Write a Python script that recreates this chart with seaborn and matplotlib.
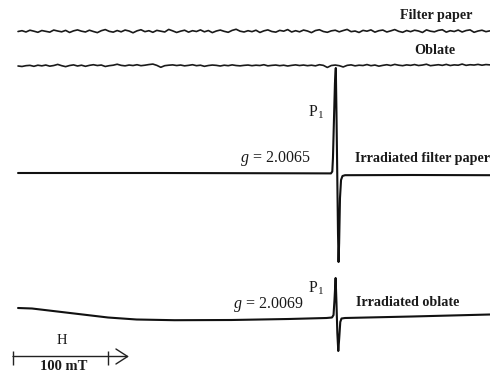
import numpy as np
import pandas as pd
import matplotlib
matplotlib.use("Agg")
import matplotlib.pyplot as plt
import seaborn as sns

sns.set_theme(style="white")
plt.rcParams['font.family'] = ['Liberation Serif', 'DejaVu Serif']
plt.rcParams['mathtext.fontset'] = 'custom'
plt.rcParams['mathtext.rm'] = 'Liberation Serif'
plt.rcParams['mathtext.it'] = 'Liberation Serif:italic'

# ---- data (field in mT, intensity in arbitrary units) ----
noise_field_start, noise_field_end = 5.3, 502.0
filter_paper = [0.0, 0.5, -0.3, 0.8, 0.2, -0.5, 0.6, 0.1, -0.4, 0.9, 0.3, -0.2, 0.7, -0.6, 0.4, 1.0, 0.2, -0.3, 0.8, 0.0,
                -0.7, 0.5, 1.2, 0.1, -0.4, 0.6, -0.2, 0.9, 0.3, -0.8, 0.4, 1.1, -0.1, 0.5, -0.5, 0.7, 0.2, -0.3, 1.3, 0.4,
                -0.6, 0.2, 0.8, -0.4, 0.5, 0.0, 1.0, -0.2, 0.6, -0.7, 0.3, 0.9, 0.1, -0.5, 0.7, 1.4, 0.2, -0.3, 0.5, -0.1,
                0.8, -0.6, 0.4, 1.0, 0.0, -0.4, 0.7, 0.2, 1.2, -0.3, 0.5, -0.2, 0.9, 0.3, -0.7, 0.6, 1.1, 0.0, -0.5, 0.4,
                0.8, -0.2, 0.6, 1.3, -0.1, 0.3, -0.6, 0.7, 0.2, 1.0, -0.4, 0.5, 0.9, -0.3, 0.4, 1.2, 0.1, -0.5, 0.6, -0.1,
                0.8, 0.3, -0.6, 1.0, 0.2, -0.2, 0.7, 1.1, -0.4, 0.5, 0.0, 0.9, -0.3, 0.6, 1.0, -0.5, 0.3, 0.8, -0.1, 0.4]
oblate = [0.0, -0.3, 0.2, 0.4, -0.2, 0.5, 0.1, 0.6, -0.1, 0.3, 1.0, 0.2, -0.4, 0.3, 0.7, 0.0, 0.5, -0.2, 0.4, 0.8,
          0.3, 0.6, -0.3, 0.2, 0.5, 1.1, 0.4, 0.1, 0.6, 0.3, 0.8, 0.2, 0.5, 0.9, 1.2, 0.4, -0.8, 0.2, 0.5, 0.7,
          0.3, 0.6, 0.1, 0.4, 0.8, 0.2, 0.5, -0.2, 0.3, 0.6, 0.4, 0.0, 0.5, 0.2, 0.7, 0.3, 0.1, 0.4, 0.6, 0.2,
          0.5, 0.3, 0.8, 0.1, 0.4, 0.6, 0.2, 0.5, 0.0, 0.4, 0.7, 0.3, 0.6, 0.2, 0.5, 0.1, 0.8, 0.4, -0.9, 0.3,
          0.6, 0.2, -0.6, 0.4, 0.7, 0.1, 0.5, 0.3, 0.9, 0.2, 0.6, -0.1, 0.4, 0.8, 0.3, 1.0, 0.5, 0.2, 0.7, 0.4,
          0.9, 0.3, 0.6, 1.1, 0.2, 0.5, 0.8, 0.4, 1.0, 0.3, 0.7, 0.5, 1.2, 0.4, 0.8, 0.6, 1.0, 0.5, 0.9, 0.7]

irr_filter_field = [5.3, 150.0, 300.0, 334.7, 336.1, 336.8, 337.9, 338.9, 339.8, 340.5, 341.3, 342.1,
                    342.7, 343.3, 344.2, 345.3, 346.8, 349.5, 420.0, 502.0]
irr_filter_int = [0.0, 0.0, -0.3, -0.4, 1.5, 15.0, 55.0, 90.0, 105.0, 60.0, 0.0, -60.0,
                  -89.0, -70.0, -25.0, -7.0, -3.0, -2.2, -2.0, -2.2]

irr_oblate_field = [5.3, 20.0, 60.0, 100.0, 130.0, 170.0, 230.0, 290.0, 330.0, 335.8, 337.4, 338.4,
                    339.6, 340.5, 341.4, 342.4, 343.4, 344.5, 345.8, 349.5, 420.0, 502.0]
irr_oblate_int = [10.0, 9.5, 5.0, 0.5, -1.5, -2.2, -2.0, -1.0, 0.0, 0.5, 3.0, 18.0,
                  40.0, 15.0, -15.0, -33.0, -20.0, -4.0, -0.5, 0.0, 1.5, 3.5]

# ---- layout ----
W, H = 490, 372
fig = plt.figure(figsize=(W / 100, H / 100), dpi=100)
ax = fig.add_axes([0, 0, 1, 1])
px_per_mT = 0.95
x0_px = 13.0
ax.set_xlim(-x0_px / px_per_mT, (W - x0_px) / px_per_mT)
ax.set_ylim(-H, 0)
ax.axis('off')

noise_scale = 1.6
noise_field = np.linspace(noise_field_start, noise_field_end, len(filter_paper))
offsets = {'Filter paper': -31.5, 'Oblate': -66.0, 'Irradiated filter paper': -173.0,
           'Irradiated oblate': -318.0}

frames = [
    pd.DataFrame({'B': noise_field, 'I': np.array(filter_paper) * noise_scale + offsets['Filter paper']}),
    pd.DataFrame({'B': noise_field, 'I': np.array(oblate) * noise_scale + offsets['Oblate']}),
]
for df in frames:
    sns.lineplot(data=df, x='B', y='I', ax=ax, color='#1a1a1a', lw=1.2, sort=False, estimator=None)

df3 = pd.DataFrame({'B': irr_filter_field,
                    'I': np.array(irr_filter_int) + offsets['Irradiated filter paper']})
df4 = pd.DataFrame({'B': irr_oblate_field,
                    'I': np.array(irr_oblate_int) + offsets['Irradiated oblate']})
sns.lineplot(data=df3, x='B', y='I', ax=ax, color='#111111', lw=1.5, sort=False, estimator=None)
sns.lineplot(data=df4, x='B', y='I', ax=ax, color='#111111', lw=1.5, sort=False, estimator=None)

# scale bar
yb = -356.5
ax.annotate('', xy=(122, yb), xytext=(0, yb),
            arrowprops=dict(arrowstyle='->,head_length=0.7,head_width=0.45', lw=1.0,
                            color='#222222', shrinkA=0, shrinkB=0))
ax.vlines([0, 100], yb - 8, yb + 6, color='#222222', lw=1.0)


def ftext(xp, yp, s, **kw):
    fig.text(xp / W, 1 - yp / H, s, va='center', color='#1a1a1a', **kw)


fs = 10.2
ftext(436, 15, 'Filter paper', ha='center', fontsize=fs, fontweight='bold')
ftext(435, 50, 'Oblate', ha='center', fontsize=fs, fontweight='bold')
ftext(308, 112, 'P$_{\\mathregular{1}}$', ha='left', fontsize=11.5)
ftext(240, 158, '$\\mathit{g}$ = 2.0065', ha='left', fontsize=11.5)
ftext(355, 158, 'Irradiated filter paper', ha='left', fontsize=fs, fontweight='bold')
ftext(308, 288, 'P$_{\\mathregular{1}}$', ha='left', fontsize=11.5)
ftext(233, 305, '$\\mathit{g}$ = 2.0069', ha='left', fontsize=11.5)
ftext(356, 302, 'Irradiated oblate', ha='left', fontsize=fs, fontweight='bold')
ftext(62, 340, 'H', ha='center', fontsize=10.5)
ftext(64, 367, '100 mT', ha='center', fontsize=10.5, fontweight='bold')

fig.savefig('out.png', dpi=100, facecolor='white')
